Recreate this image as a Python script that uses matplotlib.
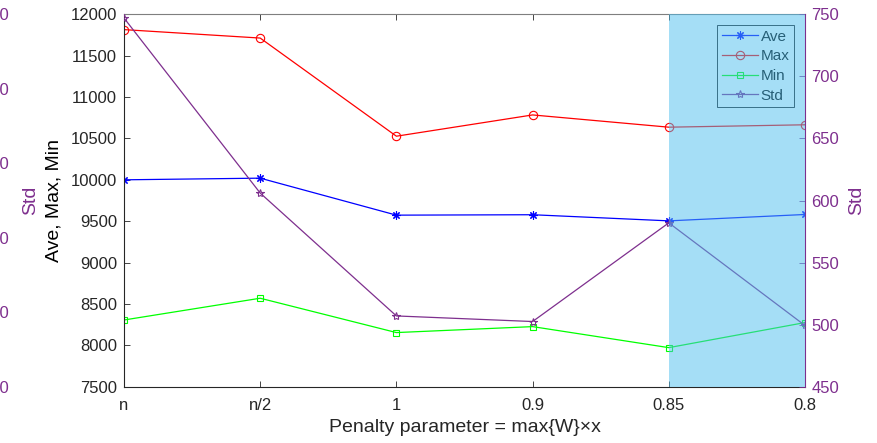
import numpy as np
import matplotlib
matplotlib.use('Agg')
import matplotlib.pyplot as plt

plt.rcParams['font.family'] = ['Liberation Sans', 'DejaVu Sans']

# penalty settings along x and the four statistics
labels = ['n', 'n/2', '1', '0.9', '0.85', '0.8']
ave = [10000, 10020, 9573, 9578, 9504, 9581]
max_v = [11815, 11713, 10527, 10784, 10636, 10665]
min_v = [8306, 8569, 8154, 8226, 7972, 8275]
std_v = [747, 606, 507, 502.5, 582, 499.3]

purple = (0.494, 0.184, 0.556)
dark = '#262626'
x = np.arange(len(labels))

fig = plt.figure(figsize=(8.77, 4.43), dpi=100)
ax1 = fig.add_axes([0.14139, 0.1271, 0.77651, 0.8406])

# extra std axis sitting far left (mostly off the canvas)
ax3 = ax1.twinx()
ax3.yaxis.tick_left()
ax3.yaxis.set_label_position('left')
for s in ax3.spines.values():
    s.set_visible(False)
ax3.spines['left'].set_position(('axes', -0.1645))
ax3.set_ylim(500, 750)
ax3.set_yticks(np.arange(500, 751, 50))
ax3.tick_params(axis='y', length=0, pad=2, labelsize=12, labelcolor=purple)
ax3.set_ylabel('Std', fontsize=14, color=purple)
ax3.yaxis.set_label_coords(-0.1248, 0.5)

ax2 = ax1.twinx()

kw = dict(lw=0.9, ms=6, mew=0.8, fillstyle='none')
l1, = ax1.plot(x, ave, color='b', marker=(8, 2, 0), label='Ave', **kw)
l2, = ax1.plot(x, max_v, color='r', marker='o', label='Max', **kw)
l3, = ax1.plot(x, min_v, color=(0, 1, 0), marker='s', label='Min',
               lw=0.9, ms=5, mew=0.8, fillstyle='none')
l4, = ax2.plot(x, std_v, color=purple, marker='*', label='Std', **kw)

ax1.set_xlim(0, 5)
ax1.set_ylim(7500, 12000)
ax1.set_yticks(np.arange(7500, 12001, 500))
ax1.set_xticks(x)
ax1.set_xticklabels(labels)
ax1.tick_params(axis='both', direction='in', length=4, width=0.6,
                labelsize=12, color=dark, labelcolor=dark)
ax1.tick_params(axis='x', top=True, pad=8)
ax1.tick_params(axis='y', pad=5)
for t in ax1.xaxis.get_major_ticks():
    t.tick2line.set_color('#7f7f7f')
ax1.spines['left'].set_color(dark)
ax1.spines['bottom'].set_color(dark)
ax1.spines['top'].set_color('#7f7f7f')
ax1.spines['right'].set_visible(False)
for s in ['left', 'bottom', 'right', 'top']:
    ax1.spines[s].set_linewidth(0.8)

ax1.set_ylabel('Ave, Max, Min', fontsize=14, color='black')
ax1.yaxis.set_label_coords(-0.0903, 0.5)
ax1.set_xlabel('Penalty parameter = max{W}\u00d7x', fontsize=14, color=dark)
ax1.xaxis.set_label_coords(0.5, -0.088)

ax2.set_ylim(450, 750)
ax2.set_yticks(np.arange(450, 751, 50))
ax2.tick_params(axis='y', direction='in', length=4, width=0.6, pad=4.5,
                labelsize=12, color=purple, labelcolor=purple)
for s in ['left', 'bottom', 'top']:
    ax2.spines[s].set_visible(False)
ax2.spines['right'].set_color(purple)
ax2.spines['right'].set_linewidth(0.8)
ax2.set_ylabel('Std', fontsize=14, color=purple)
ax2.yaxis.set_label_coords(1.0632, 0.5)

leg = ax2.legend(handles=[l1, l2, l3, l4], loc='upper right', fontsize=11,
                 fancybox=False, framealpha=1, edgecolor='black',
                 borderaxespad=0.7, borderpad=0.3, labelspacing=0.37,
                 handlelength=2.35, handletextpad=0.2)
leg.get_frame().set_linewidth(0.6)
leg.set_zorder(5)

# highlighted region over the last interval
ax2.axvspan(4, 5, color=(0.301, 0.745, 0.933), alpha=0.5, lw=0, zorder=10)

fig.savefig('out.png', dpi=100)
